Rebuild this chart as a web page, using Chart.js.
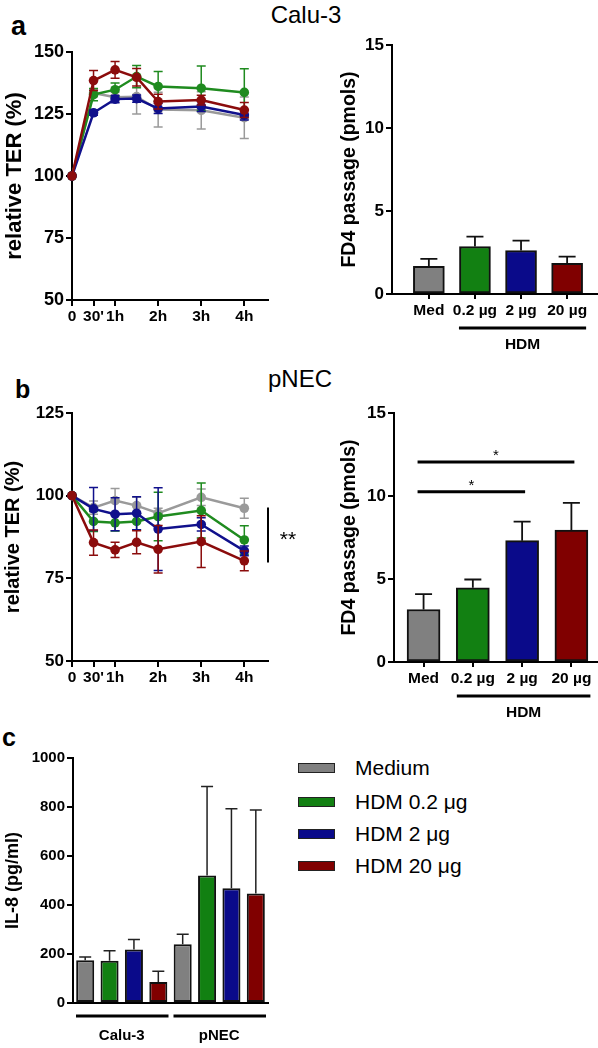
<!DOCTYPE html>
<html><head><meta charset="utf-8">
<script src="https://cdn.jsdelivr.net/npm/chart.js@4.4.1/dist/chart.umd.min.js"></script>
<style>
html,body{margin:0;padding:0;background:#fff;}
body{width:598px;height:1048px;position:relative;overflow:hidden;font-family:"Liberation Sans",Arial,sans-serif;}
canvas{position:absolute;}
.t{position:absolute;line-height:1;white-space:nowrap;color:#000;}
.lg{position:absolute;left:298px;height:24px;display:flex;align-items:center;font-size:21px;white-space:nowrap;}
.sw{width:35px;height:8px;border:1.5px solid #222;margin-right:20px;}
</style></head><body>
<div class="t" style="left:11px;top:13px;font-size:27px;font-weight:bold">a</div>
<div class="t" style="left:206px;top:3px;width:200px;text-align:center;font-size:24px">Calu-3</div>
<div class="t" style="left:15px;top:377px;font-size:25px;font-weight:bold">b</div>
<div class="t" style="left:200px;top:367px;width:200px;text-align:center;font-size:24px">pNEC</div>
<div class="t" style="left:2px;top:725px;font-size:25px;font-weight:bold">c</div>
<div id="legend"></div>
<script>
// ---------------- DATA ----------------
const timeMin = [0, 30, 60, 90, 120, 180, 240];
const timeTicks = [0, 30, 60, 120, 180, 240];
const timeTickLabels = ['0', "30'", '1h', '2h', '3h', '4h'];
const treatmentLabels = ['Medium', 'HDM 0.2 \u03bcg', 'HDM 2 \u03bcg', 'HDM 20 \u03bcg'];
const fd4Labels = ['Med', '0.2 \u00b5g', '2 \u00b5g', '20 \u00b5g'];
const cellLabels = ['Calu-3', 'pNEC'];

// a: Calu-3 relative TER (%)
const calu3TerMedium = [100, 133.5, 131.8, 132.0, 126.8, 126.5, 123.5];
const calu3TerHdm02  = [100, 132.8, 134.8, 140.1, 136.1, 135.4, 133.7];
const calu3TerHdm2   = [100, 125.5, 131.0, 131.2, 127.2, 128.0, 124.6];
const calu3TerHdm20  = [100, 138.5, 142.8, 139.8, 130.0, 130.6, 126.6];
const calu3TerMediumErr = [0, 1.5, 2.0, 7.0, 7.0, 7.5, 8.4];
const calu3TerHdm02Err  = [0, 2.5, 2.7, 4.5, 6.0, 9.0, 9.5];
const calu3TerHdm2Err   = [0, 1.0, 1.5, 1.5, 2.0, 2.0, 2.0];
const calu3TerHdm20Err  = [0, 4.0, 3.4, 3.5, 3.0, 2.0, 3.0];

// a: Calu-3 FD4 passage (pmols)
const calu3Fd4 = [1.67, 2.86, 2.62, 1.85];
const calu3Fd4Err = [0.44, 0.60, 0.60, 0.40];

// b: pNEC relative TER (%)
const pnecTerMedium = [100, 96.4, 98.5, 97.0, 94.7, 99.5, 96.2];
const pnecTerHdm02  = [100, 92.2, 91.8, 92.2, 93.7, 95.5, 86.6];
const pnecTerHdm2   = [100, 96.0, 94.4, 94.7, 89.9, 91.3, 83.3];
const pnecTerHdm20  = [100, 85.8, 83.6, 85.9, 83.8, 86.1, 80.3];
const pnecTerMediumErr = [0, 2.0, 3.7, 2.5, 1.5, 2.5, 3.0];
const pnecTerHdm02Err  = [0, 3.0, 2.5, 2.5, 7.3, 8.3, 4.3];
const pnecTerHdm2Err   = [0, 6.5, 5.0, 5.0, 12.5, 2.0, 1.5];
const pnecTerHdm20Err  = [0, 3.8, 2.3, 3.5, 7.2, 7.8, 3.0];
const pnecTerSig = {from: 96.4, to: 79.8, label: '**'};

// b: pNEC FD4 passage (pmols)
const pnecFd4 = [3.16, 4.47, 7.31, 7.95];
const pnecFd4Err = [0.93, 0.50, 1.15, 1.63];
const pnecFd4Sig = [{from: 0, to: 3, y: 12.05, label: '*'}, {from: 0, to: 2, y: 10.25, label: '*'}];

// c: IL-8 (pg/ml), per treatment across [Calu-3, pNEC]
const il8Medium = [175, 240];
const il8Hdm02  = [172, 520];
const il8Hdm2   = [218, 468];
const il8Hdm20  = [86, 447];
const il8MediumErr = [13, 41];
const il8Hdm02Err  = [41, 364];
const il8Hdm2Err   = [41, 325];
const il8Hdm20Err  = [44, 341];

// ---------------- STYLE ----------------
const FONT = "'Liberation Sans', Arial, sans-serif";
Chart.defaults.font.family = FONT;
Chart.defaults.color = '#000';
Chart.defaults.animation = false;
const BLACK = '#000';
const lineColors = ['#9a9a9a', '#1f8b1f', '#10108c', '#8b0c0c'];
const barColors = ['#808080', '#128012', '#0a0a8a', '#800000'];

// legend
const lgRows = [756, 790, 822, 854];
treatmentLabels.forEach((lab, i) => {
  const d = document.createElement('div');
  d.className = 'lg';
  d.style.top = lgRows[i] + 'px';
  const s = document.createElement('div');
  s.className = 'sw'; s.style.background = barColors[i];
  d.appendChild(s);
  d.appendChild(document.createTextNode(lab));
  document.getElementById('legend').appendChild(d);
});

function mk(r) {
  const c = document.createElement('canvas');
  c.width = r.w; c.height = r.h;
  c.style.left = r.x + 'px'; c.style.top = r.y + 'px';
  c.style.width = r.w + 'px'; c.style.height = r.h + 'px';
  document.body.appendChild(c);
  return c;
}
function pad(r, a, yW, xH) {
  return {left: a.L - r.x - yW, top: a.T - r.y, right: r.x + r.w - a.R, bottom: r.y + r.h - a.B - xH};
}

// error bars plugin
function drawErr(chart, meta, opts) {
  const ds = chart.data.datasets[meta.index];
  if (!ds.errors) return;
  const ys = chart.scales.y, ctx = chart.ctx;
  ctx.save();
  ctx.strokeStyle = opts.color || ds.borderColor;
  ctx.lineWidth = opts.lineWidth;
  meta.data.forEach((el, i) => {
    const raw = ds.data[i];
    const val = (typeof raw === 'object') ? raw.y : raw;
    const e = ds.errors[i];
    if (!e) return;
    const x = el.x, cw = opts.cap / 2;
    const yTop = ys.getPixelForValue(val + e);
    const yBot = ys.getPixelForValue(opts.mode === 'both' ? val - e : val);
    ctx.beginPath();
    ctx.moveTo(x, yTop); ctx.lineTo(x, yBot);
    ctx.moveTo(x - cw, yTop); ctx.lineTo(x + cw, yTop);
    if (opts.mode === 'both') { ctx.moveTo(x - cw, yBot); ctx.lineTo(x + cw, yBot); }
    ctx.stroke();
  });
  ctx.restore();
}
const errorBars = {
  id: 'errorBars',
  beforeDatasetDraw(chart, args, opts) { if (opts.mode === 'both') drawErr(chart, args.meta, opts); },
  afterDatasetDraw(chart, args, opts) { if (opts.mode === 'up') drawErr(chart, args.meta, opts); }
};

function yAxis(o) {
  return {
    type: 'linear', position: 'left', min: o.min, max: o.max,
    afterFit: s => { s.width = o.width; },
    border: {display: true, color: BLACK, width: 2},
    grid: {display: true, drawOnChartArea: false, drawTicks: true, tickLength: 6, color: BLACK, lineWidth: 2},
    ticks: {stepSize: o.step, font: {size: o.tickSize, weight: 'bold'}, padding: 2, color: BLACK,
            callback: v => String(v)},
    title: {display: true, text: o.title, font: {size: o.titleSize, weight: 'bold'}, padding: {top: o.titlePad, bottom: 0}, color: BLACK}
  };
}

// ---------------- TER line charts ----------------
function lineDs(label, vals, errs, color, order) {
  return {
    label, data: timeMin.map((t, i) => ({x: t, y: vals[i]})), errors: errs,
    borderColor: color, backgroundColor: color, pointBackgroundColor: color, pointBorderColor: color,
    pointRadius: 4.8, pointBorderWidth: 0, borderWidth: 2.5, tension: 0, order, clip: false
  };
}
function terChart(r, a, sets, yOpt, extraPlugins, extraOpts) {
  const yW = a.L - r.x, xH = 26;
  const plugins = {legend: {display: false}, tooltip: {enabled: false}, errorBars: {mode: 'both', cap: 9, lineWidth: 1.5}};
  Object.assign(plugins, extraOpts || {});
  return new Chart(mk(r), {
    type: 'line',
    data: {datasets: sets},
    options: {
      responsive: false, animation: false,
      layout: {padding: pad(r, a, yW, xH)},
      plugins,
      scales: {
        x: {
          type: 'linear', min: 0, max: 273, offset: false,
          afterFit: s => { s.height = xH; },
          afterBuildTicks: s => { s.ticks = timeTicks.map(v => ({value: v})); },
          border: {display: true, color: BLACK, width: 2},
          grid: {display: true, drawOnChartArea: false, drawTicks: true, tickLength: 6, color: BLACK, lineWidth: 2, offset: false},
          ticks: {autoSkip: false, maxRotation: 0, minRotation: 0, padding: 1, font: {size: 15.5, weight: 'bold'}, color: BLACK,
                  callback: v => timeTickLabels[timeTicks.indexOf(v)]}
        },
        y: yAxis(Object.assign({width: yW}, yOpt))
      }
    },
    plugins: [errorBars].concat(extraPlugins || [])
  });
}

terChart({x: 0, y: 30, w: 290, h: 300}, {L: 72, T: 52, R: 268, B: 300}, [
  lineDs(treatmentLabels[0], calu3TerMedium, calu3TerMediumErr, lineColors[0], 3),
  lineDs(treatmentLabels[1], calu3TerHdm02, calu3TerHdm02Err, lineColors[1], 2),
  lineDs(treatmentLabels[2], calu3TerHdm2, calu3TerHdm2Err, lineColors[2], 1),
  lineDs(treatmentLabels[3], calu3TerHdm20, calu3TerHdm20Err, lineColors[3], 0)
], {min: 50, max: 150, step: 25, tickSize: 18, title: 'relative TER (%)', titleSize: 22, titlePad: 2});

const terSigPlugin = {
  id: 'terSig',
  afterDraw(chart, args, o) {
    const ys = chart.scales.y, ctx = chart.ctx;
    const x = chart.chartArea.right + o.dx;
    const y1 = ys.getPixelForValue(o.sig.from), y2 = ys.getPixelForValue(o.sig.to);
    ctx.save();
    ctx.strokeStyle = BLACK; ctx.lineWidth = 2;
    ctx.beginPath(); ctx.moveTo(x, y1); ctx.lineTo(x, y2); ctx.stroke();
    ctx.fillStyle = BLACK; ctx.font = '21px ' + FONT; ctx.textAlign = 'center'; ctx.textBaseline = 'alphabetic';
    ctx.fillText(o.sig.label, x + o.textDx, (y1 + y2) / 2 + 11);
    ctx.restore();
  }
};
terChart({x: 0, y: 395, w: 320, h: 295}, {L: 72, T: 413, R: 268, B: 661}, [
  lineDs(treatmentLabels[0], pnecTerMedium, pnecTerMediumErr, lineColors[0], 3),
  lineDs(treatmentLabels[1], pnecTerHdm02, pnecTerHdm02Err, lineColors[1], 2),
  lineDs(treatmentLabels[2], pnecTerHdm2, pnecTerHdm2Err, lineColors[2], 1),
  lineDs(treatmentLabels[3], pnecTerHdm20, pnecTerHdm20Err, lineColors[3], 0)
], {min: 50, max: 125, step: 25, tickSize: 17, title: 'relative TER (%)', titleSize: 20, titlePad: 1},
[terSigPlugin], {terSig: {sig: pnecTerSig, dx: 0, textDx: 20}});

// ---------------- FD4 bar charts ----------------
const fd4Annot = {
  id: 'fd4Annot',
  afterDraw(chart, args, o) {
    const ctx = chart.ctx, xs = chart.scales.x, ys = chart.scales.y;
    ctx.save();
    ctx.strokeStyle = BLACK; ctx.fillStyle = BLACK;
    const x1 = xs.getPixelForValue(1) - o.padL, x2 = xs.getPixelForValue(3) + o.padR;
    const yb = ys.bottom + o.dy;
    ctx.lineWidth = 3;
    ctx.beginPath(); ctx.moveTo(x1, yb); ctx.lineTo(x2, yb); ctx.stroke();
    ctx.font = 'bold 15.5px ' + FONT; ctx.textAlign = 'center'; ctx.textBaseline = 'middle';
    ctx.fillText('HDM', (x1 + x2) / 2, yb + o.textDy);
    (o.sigs || []).forEach(s => {
      const y = ys.getPixelForValue(s.y);
      const xa = xs.getPixelForValue(s.from) - 6, xb = xs.getPixelForValue(s.to) + 3;
      ctx.lineWidth = 3;
      ctx.beginPath(); ctx.moveTo(xa, y); ctx.lineTo(xb, y); ctx.stroke();
      ctx.font = '15px ' + FONT; ctx.textBaseline = 'alphabetic';
      ctx.fillText(s.label, (xa + xb) / 2, y - 2);
    });
    ctx.restore();
  }
};
function fd4Chart(r, a, vals, errs, xMin, xMax, barW, sigs) {
  const yW = a.L - r.x, xH = 60;
  return new Chart(mk(r), {
    type: 'bar',
    data: {datasets: [{
      label: 'FD4', data: vals.map((v, i) => ({x: i, y: v})), errors: errs,
      backgroundColor: barColors, borderColor: '#111', borderWidth: 2, borderSkipped: false, barThickness: barW
    }]},
    options: {
      responsive: false, animation: false,
      layout: {padding: pad(r, a, yW, xH)},
      plugins: {legend: {display: false}, tooltip: {enabled: false},
        errorBars: {mode: 'up', cap: 17, lineWidth: 1.8, color: '#111'},
        fd4Annot: {padL: 16, padR: 19, dy: 34, textDy: 17, sigs}},
      scales: {
        x: {
          type: 'linear', min: xMin, max: xMax, offset: false,
          afterFit: s => { s.height = xH; },
          afterBuildTicks: s => { s.ticks = fd4Labels.map((_, i) => ({value: i})); },
          border: {display: true, color: BLACK, width: 2},
          grid: {display: true, drawOnChartArea: false, drawTicks: true, tickLength: 5, color: BLACK, lineWidth: 2, offset: false},
          ticks: {autoSkip: false, maxRotation: 0, minRotation: 0, padding: 2, font: {size: 15.5, weight: 'bold'}, color: BLACK,
                  callback: v => fd4Labels[v]}
        },
        y: yAxis({width: yW, min: 0, max: 15, step: 5, tickSize: 17, title: 'FD4 passage (pmols)', titleSize: 19.5, titlePad: 38})
      }
    },
    plugins: [errorBars, fd4Annot]
  });
}
fd4Chart({x: 300, y: 30, w: 298, h: 330}, {L: 392, T: 45, R: 598, B: 294}, calu3Fd4, calu3Fd4Err, -0.80, 3.67, 31, []);
fd4Chart({x: 300, y: 395, w: 298, h: 335}, {L: 394, T: 413, R: 598, B: 662}, pnecFd4, pnecFd4Err, -0.60, 3.54, 33, pnecFd4Sig);

// ---------------- IL-8 bar chart ----------------
const groupLines = {
  id: 'groupLines',
  afterDraw(chart, args, o) {
    const ctx = chart.ctx, xs = chart.scales.x, n = chart.data.labels.length;
    const w = (xs.right - xs.left) / n;
    ctx.save(); ctx.strokeStyle = BLACK; ctx.lineWidth = 3;
    for (let i = 0; i < n; i++) {
      ctx.beginPath();
      ctx.moveTo(xs.left + i * w + 3, xs.top + o.dy);
      ctx.lineTo(xs.left + (i + 1) * w - 2, xs.top + o.dy);
      ctx.stroke();
    }
    ctx.restore();
  }
};
(function () {
  const r = {x: 0, y: 740, w: 290, h: 308}, a = {L: 73, T: 758, R: 268, B: 1003};
  const yW = 73, xH = 40;
  const il8Sets = [[il8Medium, il8MediumErr], [il8Hdm02, il8Hdm02Err], [il8Hdm2, il8Hdm2Err], [il8Hdm20, il8Hdm20Err]];
  new Chart(mk(r), {
    type: 'bar',
    data: {
      labels: cellLabels,
      datasets: il8Sets.map((s, i) => ({
        label: treatmentLabels[i], data: s[0], errors: s[1],
        backgroundColor: barColors[i], borderColor: '#111', borderWidth: 2, borderSkipped: false,
        categoryPercentage: 1, barPercentage: 0.74
      }))
    },
    options: {
      responsive: false, animation: false,
      layout: {padding: pad(r, a, yW, xH)},
      plugins: {legend: {display: false}, tooltip: {enabled: false},
        errorBars: {mode: 'up', cap: 12, lineWidth: 1.5, color: '#222'},
        groupLines: {dy: 13}},
      scales: {
        x: {
          type: 'category',
          afterFit: s => { s.height = xH; },
          border: {display: true, color: BLACK, width: 2},
          grid: {display: false, drawTicks: false},
          ticks: {autoSkip: false, maxRotation: 0, padding: 24, font: {size: 15, weight: 'bold'}, color: BLACK}
        },
        y: yAxis({width: yW, min: 0, max: 1000, step: 200, tickSize: 15, title: 'IL-8 (pg/ml)', titleSize: 18, titlePad: 2})
      }
    },
    plugins: [errorBars, groupLines]
  });
})();
</script>
</body></html>
